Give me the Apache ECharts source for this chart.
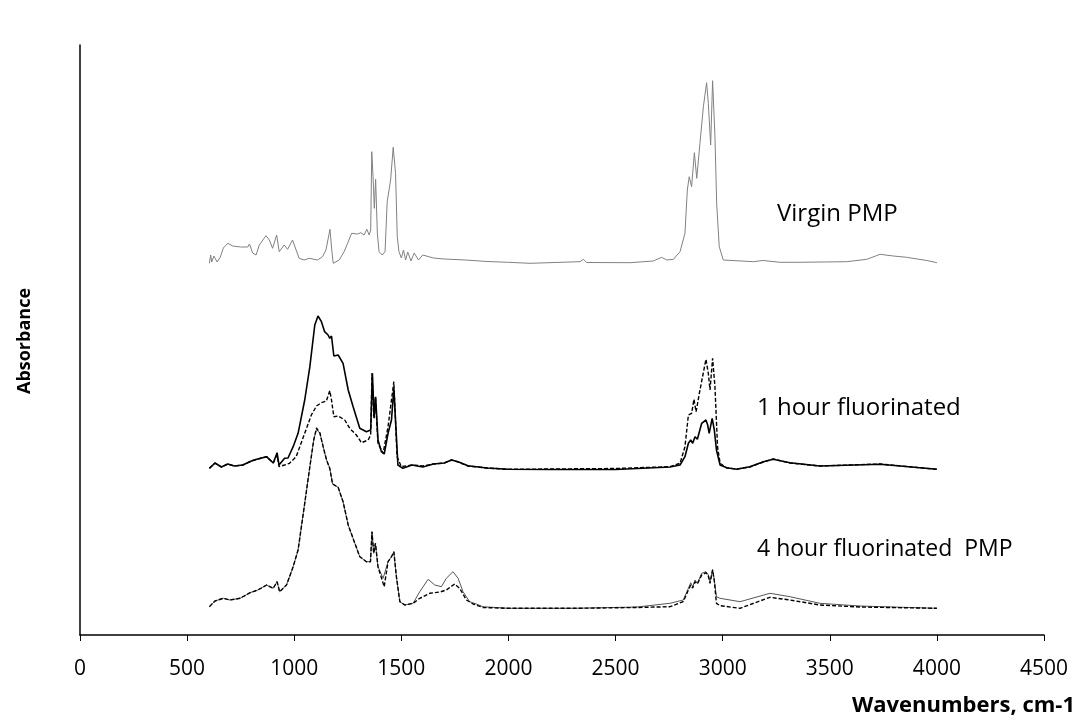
<!DOCTYPE html>
<html>
<head>
<meta charset="utf-8">
<script src="https://cdn.jsdelivr.net/npm/echarts@6/dist/echarts.min.js"></script>
<style>html,body{margin:0;padding:0;background:#fff}#c{width:1079px;height:725px}</style>
</head>
<body>
<div id="c"></div>
<script>
// X tick labels
const xTicks = [0, 500, 1000, 1500, 2000, 2500, 3000, 3500, 4000, 4500];

// Virgin PMP (offset absorbance, arbitrary units)
const virginWn = [604,610,615,625,640,655,669,690,713,750,783,791,806,822,837,868,884,899,918,930,953,969,992,1023,1046,1070,1109,1132,1148,1156,1167,1176,1182,1210,1233,1268,1296,1311,1326,1339,1350,1357,1362,1368,1374,1380,1388,1396,1411,1424,1434,1450,1462,1473,1481,1489,1500,1510,1520,1530,1545,1560,1580,1600,1650,1700,1800,1900,2000,2101,2334,2350,2365,2567,2676,2715,2739,2770,2801,2824,2835,2844,2855,2868,2879,2894,2910,2925,2933,2944,2953,2964,2972,2984,3003,3143,3188,3268,3352,3579,3673,3735,3797,3859,3953,4000];
const virginAbs = [3.717,3.80,3.73,3.79,3.73,3.78,3.87,3.917,3.89,3.88,3.88,3.91,3.82,3.80,3.90,3.993,3.95,3.867,4.00,3.833,3.90,3.857,3.95,3.767,3.75,3.767,3.75,3.783,3.85,3.833,4.057,3.833,3.717,3.75,3.833,4.017,4.01,4.023,4.00,4.057,4.00,4.05,4.833,4.583,4.267,4.557,4.02,3.833,3.80,3.833,4.333,4.55,4.877,4.617,3.983,3.833,3.77,3.85,3.75,3.83,3.74,3.82,3.75,3.80,3.77,3.76,3.75,3.735,3.727,3.717,3.733,3.757,3.725,3.723,3.74,3.777,3.75,3.757,3.833,4.017,4.45,4.583,4.483,4.823,4.567,4.917,5.283,5.523,5.317,4.90,5.543,4.983,4.317,3.883,3.75,3.733,3.745,3.727,3.727,3.733,3.757,3.807,3.79,3.777,3.745,3.723];

// 1 hour fluorinated, solid trace
const h1aWn = [604,630,660,690,720,760,800,825,871,902,920,929,955,971,995,1018,1049,1073,1096,1111,1127,1142,1158,1166,1174,1185,1205,1228,1252,1275,1306,1337,1357,1365,1373,1380,1391,1407,1420,1438,1454,1465,1484,1507,1550,1600,1650,1700,1734,1765,1811,1900,1998,2200,2500,2754,2801,2824,2840,2851,2860,2871,2882,2902,2922,2930,2937,2951,2961,2971,2988,3019,3065,3127,3190,3236,3314,3454,3735,4000];
const h1aAbs = [1.667,1.72,1.68,1.71,1.69,1.70,1.74,1.757,1.783,1.72,1.823,1.70,1.767,1.77,1.883,2.017,2.35,2.683,3.10,3.19,3.133,3.033,3.00,2.967,2.99,2.79,2.80,2.717,2.45,2.283,2.067,2.033,2.05,2.617,2.167,2.383,1.95,1.833,1.81,2.017,2.15,2.467,1.70,1.667,1.70,1.68,1.71,1.72,1.75,1.733,1.693,1.67,1.657,1.655,1.655,1.68,1.70,1.783,1.917,1.95,1.917,1.983,1.957,2.117,2.15,2.10,2.017,2.167,2.05,1.85,1.70,1.673,1.657,1.683,1.733,1.757,1.723,1.69,1.707,1.657];

// 1 hour fluorinated, dashed trace
const h1bWn = [604,630,660,690,720,760,800,825,871,902,920,929,955,978,1009,1049,1080,1104,1127,1150,1166,1174,1185,1205,1236,1259,1290,1314,1345,1357,1363,1371,1379,1391,1415,1438,1465,1480,1500,1550,1600,1650,1700,1734,1765,1811,1900,1998,2200,2500,2754,2801,2824,2840,2855,2866,2876,2894,2922,2933,2941,2953,2964,2976,2988,3019,3065,3127,3190,3236,3314,3454,3735,4000];
const h1bAbs = [1.667,1.72,1.68,1.71,1.69,1.70,1.74,1.757,1.783,1.72,1.80,1.683,1.70,1.717,1.783,2.017,2.20,2.29,2.323,2.34,2.443,2.35,2.183,2.19,2.15,2.067,2.00,1.923,1.95,2.00,2.617,2.183,2.383,1.917,1.817,2.083,2.533,1.783,1.683,1.70,1.69,1.71,1.72,1.75,1.73,1.69,1.67,1.657,1.66,1.665,1.683,1.717,1.883,2.20,2.217,2.357,2.233,2.45,2.757,2.617,2.45,2.767,2.483,1.883,1.717,1.67,1.66,1.68,1.73,1.76,1.72,1.69,1.71,1.657];

// 4 hour fluorinated PMP, solid trace
const h4aWn = [604,630,669,700,747,794,830,871,902,920,932,964,995,1018,1049,1073,1091,1104,1120,1135,1151,1166,1179,1205,1228,1252,1283,1306,1337,1356,1363,1371,1379,1391,1415,1438,1454,1465,1477,1493,1516,1555,1586,1625,1656,1687,1710,1741,1765,1788,1819,1850,1881,2000,2300,2600,2754,2816,2840,2851,2860,2871,2882,2902,2922,2933,2941,2953,2961,2971,2988,3081,3221,3314,3454,3641,4000];
const h4aAbs = [0.283,0.34,0.367,0.35,0.367,0.423,0.45,0.50,0.467,0.533,0.433,0.50,0.683,0.85,1.317,1.683,1.95,2.057,2.017,1.883,1.75,1.667,1.51,1.477,1.333,1.10,0.917,0.783,0.733,0.733,1.033,0.817,0.917,0.683,0.567,0.733,0.783,0.833,0.583,0.333,0.30,0.317,0.433,0.557,0.50,0.483,0.567,0.633,0.567,0.433,0.333,0.31,0.283,0.267,0.267,0.28,0.317,0.35,0.467,0.523,0.483,0.55,0.517,0.617,0.633,0.60,0.533,0.657,0.55,0.383,0.367,0.333,0.417,0.383,0.317,0.29,0.267];

// 4 hour fluorinated PMP, dashed trace
const h4bWn = [604,630,669,700,747,794,830,871,902,920,932,964,995,1018,1049,1073,1091,1104,1120,1135,1151,1166,1179,1205,1228,1252,1283,1306,1337,1356,1363,1371,1379,1391,1420,1438,1454,1465,1477,1493,1516,1555,1586,1633,1680,1710,1749,1772,1804,1835,1881,2000,2300,2600,2754,2816,2840,2851,2860,2871,2882,2902,2922,2933,2941,2953,2961,2971,2988,3081,3221,3314,3454,3641,4000];
const h4bAbs = [0.283,0.34,0.367,0.35,0.367,0.423,0.45,0.50,0.467,0.533,0.433,0.50,0.683,0.85,1.317,1.683,1.95,2.07,2.02,1.883,1.75,1.667,1.51,1.477,1.333,1.10,0.917,0.783,0.733,0.733,1.033,0.817,0.917,0.683,0.483,0.733,0.783,0.833,0.583,0.333,0.30,0.317,0.367,0.417,0.43,0.45,0.51,0.467,0.35,0.31,0.275,0.267,0.267,0.275,0.283,0.333,0.45,0.50,0.47,0.533,0.51,0.60,0.623,0.59,0.517,0.65,0.54,0.317,0.293,0.267,0.377,0.35,0.30,0.28,0.267];

const labelVirgin = 'Virgin PMP';
const label1h = '1 hour fluorinated';
const label4h = '4 hour fluorinated  PMP';
const xTitle = 'Wavenumbers, cm-1';
const yTitle = 'Absorbance';

function pairs(w, a) { return w.map((x, i) => [x, a[i]]); }

const chart = echarts.init(document.getElementById('c'), null, {renderer: 'canvas'});
const FONT = '"Open Sans", "Noto Sans", sans-serif';
const lineBase = {type: 'line', showSymbol: false, symbol: 'none', silent: true, animation: false, sampling: false, z: 2};

chart.setOption({
  animation: false,
  grid: {left: 80, right: 35, top: 45, bottom: 90, containLabel: false},
  xAxis: {
    type: 'value', min: xTicks[0], max: xTicks[xTicks.length - 1], interval: xTicks[1] - xTicks[0],
    axisLine: {show: true, onZero: false, lineStyle: {color: '#000', width: 1.5}},
    axisTick: {show: true, inside: false, length: 6, lineStyle: {color: '#000', width: 1}},
    axisLabel: {color: '#000', fontSize: 21, fontFamily: FONT, margin: 24, formatter: v => String(v)},
    splitLine: {show: false}
  },
  yAxis: {
    type: 'value', min: 0, max: 5.9,
    axisLine: {show: true, lineStyle: {color: '#000', width: 1.5}},
    axisTick: {show: false}, axisLabel: {show: false}, splitLine: {show: false}
  },
  series: [
    Object.assign({}, lineBase, {name: labelVirgin, data: pairs(virginWn, virginAbs), lineStyle: {color: '#808080', width: 1}}),
    Object.assign({}, lineBase, {name: label1h + ' (a)', data: pairs(h1aWn, h1aAbs), lineStyle: {color: '#000', width: 1.6}}),
    Object.assign({}, lineBase, {name: label1h + ' (b)', data: pairs(h1bWn, h1bAbs), lineStyle: {color: '#000', width: 1.4, type: [4, 2]}}),
    Object.assign({}, lineBase, {name: label4h + ' (a)', data: pairs(h4aWn, h4aAbs), lineStyle: {color: '#555', width: 1}}),
    Object.assign({}, lineBase, {name: label4h + ' (b)', data: pairs(h4bWn, h4bAbs), lineStyle: {color: '#000', width: 1.4, type: [4, 2]}})
  ],
  graphic: [
    {type: 'text', x: 777, y: 214, style: {text: labelVirgin, fontSize: 24, fontFamily: FONT, fill: '#000', verticalAlign: 'middle'}},
    {type: 'text', x: 757, y: 408, style: {text: label1h, fontSize: 24, fontFamily: FONT, fill: '#000', verticalAlign: 'middle'}},
    {type: 'text', x: 757, y: 549, style: {text: label4h, fontSize: 23, fontFamily: FONT, fill: '#000', verticalAlign: 'middle'}},
    {type: 'text', x: 1075, y: 706, style: {text: xTitle, fontSize: 22, fontWeight: 'bold', fontFamily: FONT, fill: '#000', align: 'right', verticalAlign: 'middle'}},
    {type: 'text', x: 25, y: 341, rotation: Math.PI / 2, style: {text: yTitle, fontSize: 18, fontWeight: 'bold', fontFamily: FONT, fill: '#000', align: 'center', verticalAlign: 'middle'}}
  ]
});
</script>
</body>
</html>
